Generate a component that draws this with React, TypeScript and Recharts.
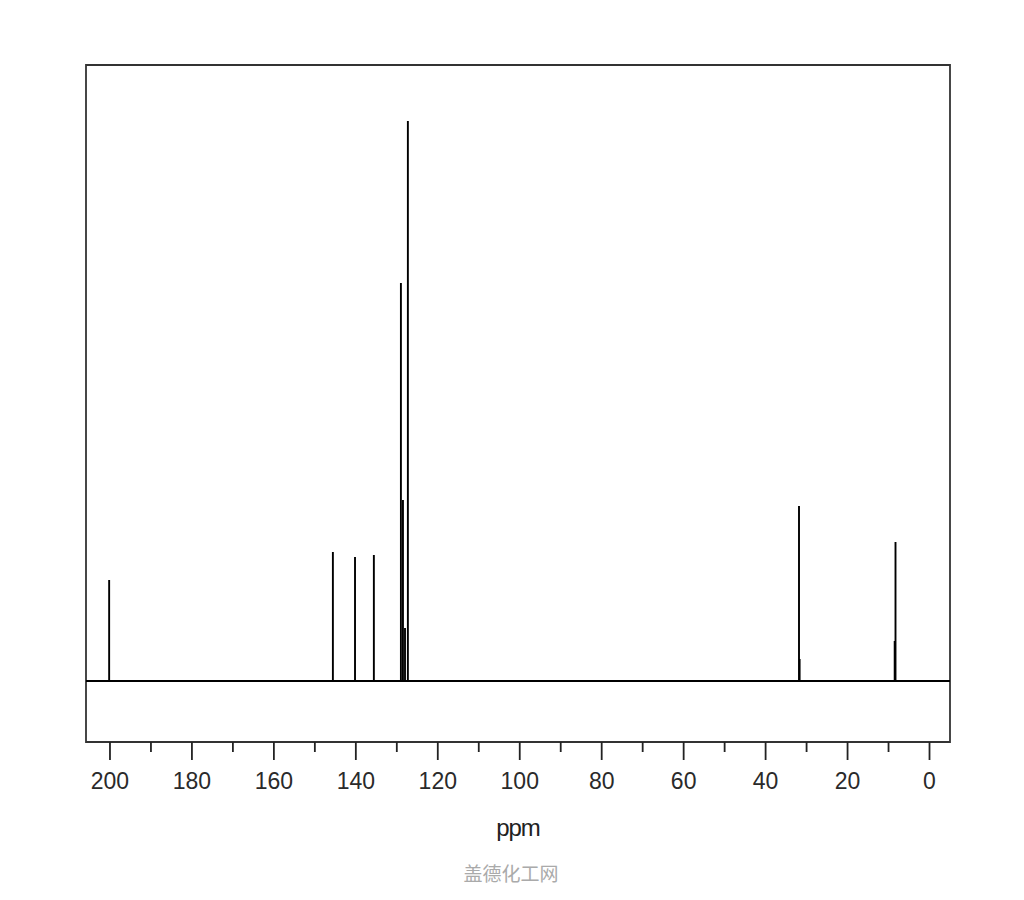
import React from "react";
import { LineChart, Line, XAxis, YAxis, ReferenceArea } from "recharts";

// 13C NMR stick spectrum
const peakPpm = [200.2, 145.6, 140.2, 135.6, 129.0, 128.5, 128.0, 127.3, 31.85, 31.7, 8.5, 8.3];
const peakHeight = [101, 129, 124, 126, 398, 181, 53, 560, 175, 22, 40, 139];

const majorTicks = [0, 20, 40, 60, 80, 100, 120, 140, 160, 180, 200];
const minorTicks = [10, 30, 50, 70, 90, 110, 130, 150, 170, 190];

const ppmMax = 205.85;
const ppmMin = -5;
const yMin = -61;
const yMax = 616;

const spectrum: { x: number; y: number }[] = [{ x: ppmMax, y: 0 }];
peakPpm.forEach((p, i) => {
  spectrum.push({ x: p, y: 0 }, { x: p, y: peakHeight[i] }, { x: p, y: 0 });
});
spectrum.push({ x: ppmMin, y: 0 });

const allTicks = [...majorTicks, ...minorTicks].sort((a, b) => a - b);

const AxisTick = ({ x, y, payload }: any) => {
  const major = majorTicks.includes(payload.value);
  return (
    <g>
      <line x1={x} x2={x} y1={y} y2={y + (major ? 18 : 10)} stroke="#222" strokeWidth={1.8} />
      {major && (
        <text
          x={x}
          y={y + 47}
          textAnchor="middle"
          fontSize={23}
          fontFamily="'Liberation Sans', Arial, sans-serif"
          fill="#2a2a2a"
        >
          {payload.value}
        </text>
      )}
    </g>
  );
};

export default function App() {
  return (
    <div style={{ position: "relative", width: 1000, height: 884, background: "#fff" }}>
      <LineChart width={1000} height={880} data={spectrum} margin={{ top: 57, right: 58, left: 78, bottom: 86 }}>
        <XAxis
          dataKey="x"
          type="number"
          domain={[ppmMin, ppmMax]}
          reversed
          allowDataOverflow
          ticks={allTicks}
          interval={0}
          tick={<AxisTick />}
          tickSize={0}
          tickMargin={0}
          axisLine={false}
          tickLine={false}
          height={60}
        />
        <YAxis hide type="number" domain={[yMin, yMax]} allowDataOverflow />
        <ReferenceArea
          x1={ppmMin}
          x2={ppmMax}
          y1={yMin}
          y2={yMax}
          fill="none"
          stroke="#333"
          strokeWidth={1.8}
          fillOpacity={0}
        />
        <Line
          type="linear"
          dataKey="y"
          stroke="#000"
          strokeWidth={1.9}
          dot={false}
          isAnimationActive={false}
        />
      </LineChart>
      <div
        style={{
          position: "absolute",
          left: 410,
          width: 200,
          top: 808,
          textAlign: "center",
          fontFamily: "'Liberation Sans', Arial, sans-serif",
          fontSize: 24,
          lineHeight: "24px",
          color: "#222",
          letterSpacing: -1,
        }}
      >
        ppm
      </div>
      <div
        style={{
          position: "absolute",
          left: 403,
          width: 200,
          top: 855,
          textAlign: "center",
          fontFamily: "'Noto Sans CJK SC', sans-serif",
          fontSize: 19,
          lineHeight: "19px",
          color: "#aaa",
        }}
      >
        盖德化工网
      </div>
    </div>
  );
}
